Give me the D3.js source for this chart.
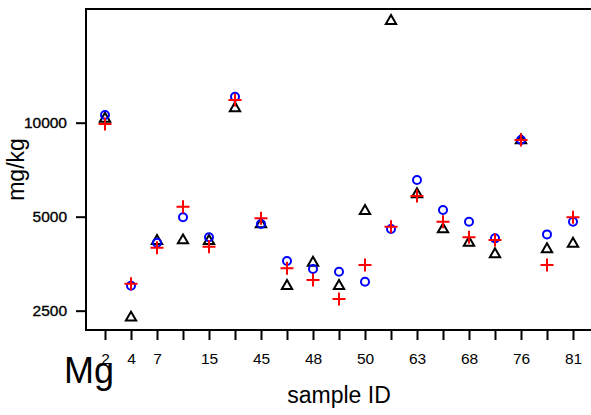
<!DOCTYPE html>
<html>
<head>
<meta charset="utf-8">
<script src="https://cdn.jsdelivr.net/npm/d3@7"></script>
<style>
  html, body { margin: 0; padding: 0; background: #fff; }
  svg { display: block; font-family: "Liberation Sans", Arial, sans-serif; }
</style>
</head>
<body>
<svg id="chart" width="591" height="415"></svg>
<script>
// ---- data ----
const tickLabels = ["2","4","7","","15","","45","","48","","50","","63","","68","","76","","81"];
const circleValues = [10580, 3003, 4127, 4978, 4296, 12110, 4737, 3607, 3400, 3333, 3096, 4565, 6555, 5253, 4818, 4262, 8800, 4388, 4818];
const plusValues   = [9900, 3047, 3980, 5381, 4006, 11820, 4940, 3418, 3136, 2726, 3502, 4644, 5823, 4818, 4296, 4210, 8800, 3502, 4978];
const triValues    = [10300, 2375, 4180, 4200, 4180, 11120, 4730, 3000, 3560, 3000, 5214, 21170, 5900, 4555, 4127, 3790, 8780, 3935, 4098];
const yTickValues  = [2500, 5000, 10000];
const yLabel = "mg/kg";
const xLabel = "sample ID";
const elementLabel = "Mg";

// ---- layout ----
const plot = { left: 86, right: 592, top: 9, bottom: 330 };
const svg = d3.select("#chart");

const x = d3.scaleLinear().domain([0, tickLabels.length - 1]).range([105, 573]);
const y = d3.scaleLog().domain([2168, 23130]).range([plot.bottom, plot.top]);

// plot box
svg.append("rect")
  .attr("x", plot.left).attr("y", plot.top)
  .attr("width", plot.right - plot.left).attr("height", plot.bottom - plot.top)
  .attr("fill", "none").attr("stroke", "#000").attr("stroke-width", 2);

// y axis
const yAxis = d3.axisLeft(y).tickValues(yTickValues).tickFormat(d3.format("d")).tickSize(10).tickPadding(9);
const gy = svg.append("g").attr("transform", `translate(${plot.left},0)`).call(yAxis);
gy.select(".domain").remove();
gy.selectAll(".tick line").attr("stroke", "#000").attr("stroke-width", 2);
gy.selectAll(".tick text").attr("font-size", 15.5).attr("fill", "#000")
  .attr("font-family", "Liberation Sans, Arial, sans-serif")
  .attr("stroke", "#000").attr("stroke-width", 0.35);

// x axis
const xAxis = d3.axisBottom(x).tickValues(d3.range(tickLabels.length))
  .tickFormat(i => tickLabels[i]).tickSize(10).tickPadding(13);
const gx = svg.append("g").attr("transform", `translate(0,${plot.bottom})`).call(xAxis);
gx.select(".domain").remove();
gx.selectAll(".tick line").attr("stroke", "#000").attr("stroke-width", 2);
gx.selectAll(".tick text").attr("font-size", 15.5).attr("fill", "#000")
  .attr("font-family", "Liberation Sans, Arial, sans-serif");

// markers
const idx = d3.range(tickLabels.length);
const triPath = d3.symbol().type(d3.symbolTriangle).size(46);

svg.append("g").selectAll("path").data(idx).join("path")
  .attr("d", triPath)
  .attr("transform", i => `translate(${x(i)},${y(triValues[i])})`)
  .attr("fill", "none").attr("stroke", "#000").attr("stroke-width", 2);

svg.append("g").selectAll("circle").data(idx).join("circle")
  .attr("cx", i => x(i)).attr("cy", i => y(circleValues[i])).attr("r", 4)
  .attr("fill", "none").attr("stroke", "#0000ff").attr("stroke-width", 2);

const plusArm = 6.5;
const gp = svg.append("g").attr("stroke", "#ff0000").attr("stroke-width", 2).attr("fill", "none");
gp.selectAll("path").data(idx).join("path")
  .attr("d", i => {
    const cx = x(i), cy = y(plusValues[i]);
    return `M${cx - plusArm},${cy}H${cx + plusArm}M${cx},${cy - plusArm}V${cy + plusArm}`;
  });

// axis titles
svg.append("text")
  .attr("transform", `translate(24,${(plot.top + plot.bottom) / 2}) rotate(-90)`)
  .attr("text-anchor", "middle").attr("font-size", 23).attr("fill", "#000")
  .text(yLabel);

svg.append("text")
  .attr("x", (plot.left + plot.right) / 2).attr("y", 403)
  .attr("text-anchor", "middle").attr("font-size", 23).attr("fill", "#000")
  .text(xLabel);

svg.append("text")
  .attr("x", 64).attr("y", 383)
  .attr("font-size", 36).attr("fill", "#000")
  .text(elementLabel);
</script>
</body>
</html>
